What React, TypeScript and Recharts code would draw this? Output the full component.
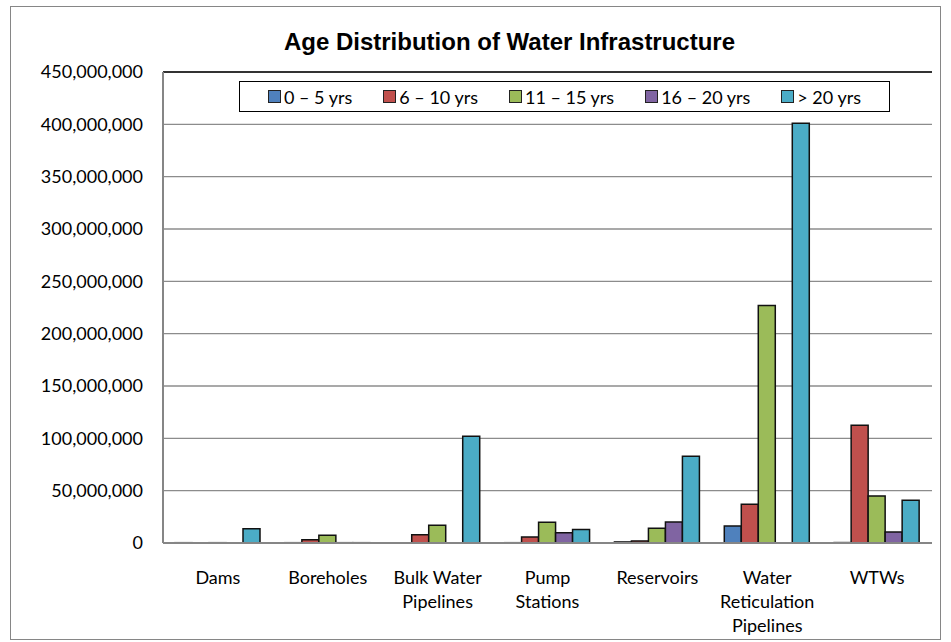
import React from 'react';
import {
  BarChart, Bar, XAxis, YAxis, CartesianGrid, Legend, ReferenceLine,
} from 'recharts';

const categories = [
  'Dams',
  'Boreholes',
  'Bulk Water\nPipelines',
  'Pump\nStations',
  'Reservoirs',
  'Water\nReticulation\nPipelines',
  'WTWs',
];

const seriesNames = ['0 – 5 yrs', '6 – 10 yrs', '11 – 15 yrs', '16 – 20 yrs', '> 20 yrs'];
const seriesColors = ['#4F81BD', '#C0504D', '#9BBB59', '#8064A2', '#4BACC6'];

// values per category, in the same order as categories
const yrs0to5 = [300000, 300000, 0, 300000, 1000000, 16200000, 400000];
const yrs6to10 = [0, 3000000, 8000000, 5700000, 2000000, 37000000, 112400000];
const yrs11to15 = [300000, 7300000, 17000000, 19800000, 14000000, 227000000, 45000000];
const yrs16to20 = [0, 300000, 0, 9900000, 20000000, 0, 10500000];
const yrsOver20 = [13500000, 300000, 102000000, 13000000, 82800000, 401000000, 40800000];

const yTicks = [0, 50000000, 100000000, 150000000, 200000000, 250000000, 300000000, 350000000, 400000000, 450000000];

const seriesValues = [yrs0to5, yrs6to10, yrs11to15, yrs16to20, yrsOver20];
const keys = ['s0', 's1', 's2', 's3', 's4'];

const data = categories.map((name, i) => {
  const row: Record<string, string | number> = { name };
  seriesValues.forEach((vals, k) => { row[keys[k]] = vals[i]; });
  return row;
});

const FONT = 'Lato, "Open Sans", sans-serif';

const CategoryTick = (props: any) => {
  const { x, y, payload } = props;
  const lines = String(payload.value).split('\n');
  return (
    <text x={x} y={y} textAnchor="middle" fill="#000" fontSize={18} fontFamily={FONT}>
      {lines.map((l: string, i: number) => (
        <tspan key={i} x={x} dy={i === 0 ? 41 : 24}>{l}</tspan>
      ))}
    </text>
  );
};

const LegendBox = () => (
  <div style={{
    boxSizing: 'border-box', width: 651, height: 31, border: '1px solid #000',
    display: 'flex', alignItems: 'center', justifyContent: 'center', gap: 31,
    fontFamily: FONT, fontSize: 18, background: '#fff',
  }}>
    {seriesNames.map((n, i) => (
      <div key={n} style={{ display: 'flex', alignItems: 'center' }}>
        <span style={{
          display: 'inline-block', width: 11, height: 11, background: seriesColors[i],
          border: '1px solid #222', marginRight: 3,
        }} />
        <span>{n}</span>
      </div>
    ))}
  </div>
);

const App: React.FC = () => {
  return (
    <div style={{ position: 'absolute', left: 0, top: 0, width: 951, height: 642 }}>
      <div style={{
        position: 'absolute', left: 10, top: 6, width: 929, height: 632,
        border: '1px solid #868686', background: '#fff',
      }} />
      <div style={{
        position: 'absolute', left: 0, top: 27, width: 1019, textAlign: 'center',
        fontFamily: '"Liberation Sans", Arial, sans-serif', fontWeight: 'bold', fontSize: 24,
        lineHeight: '30px',
      }}>
        Age Distribution of Water Infrastructure
      </div>
      <div style={{ position: 'absolute', left: 0, top: 0 }}>
        <BarChart
          width={951}
          height={642}
          data={data}
          margin={{ top: 72, right: 19, bottom: 0, left: 0 }}
          barCategoryGap={12}
          barGap={0}
        >
          <CartesianGrid vertical={false} stroke="#8c8c8c" strokeWidth={1.3} />
          <XAxis
            dataKey="name"
            height={99}
            interval={0}
            tickLine={false}
            tickSize={0}
            tickMargin={0}
            axisLine={{ stroke: '#868686', strokeWidth: 2 }}
            tick={<CategoryTick />}
          />
          <YAxis
            width={163}
            domain={[0, 450000000]}
            ticks={yTicks}
            interval={0}
            tickLine={false}
            tickSize={0}
            tickMargin={20}
            axisLine={{ stroke: '#868686', strokeWidth: 2 }}
            tick={{ fill: '#000', fontSize: 18, fontFamily: FONT }}
            tickFormatter={(v: number) => v.toLocaleString('en-US')}
          />
          <YAxis
            yAxisId="right"
            orientation="right"
            width={0}
            domain={[0, 450000000]}
            tick={false}
            tickLine={false}
            axisLine={{ stroke: '#333', strokeWidth: 2 }}
          />
          <ReferenceLine y={450000000} stroke="#333" strokeWidth={2} />
          <Legend
            verticalAlign="middle"
            align="center"
            layout="horizontal"
            wrapperStyle={{ top: 81, left: 239, width: 651 }}
            content={<LegendBox />}
          />
          {keys.map((k, i) => (
            <Bar
              key={k}
              dataKey={k}
              name={seriesNames[i]}
              fill={seriesColors[i]}
              stroke="#111"
              strokeWidth={1.5}
              isAnimationActive={false}
            />
          ))}
        </BarChart>
      </div>
    </div>
  );
};

export default App;
